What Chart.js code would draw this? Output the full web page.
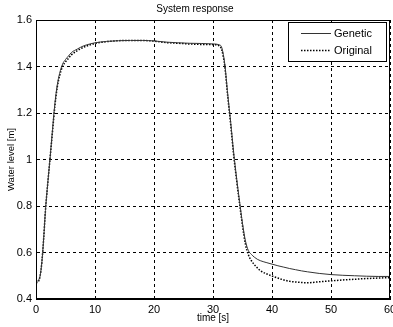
<!DOCTYPE html>
<html>
<head>
<meta charset="utf-8">
<script src="https://cdn.jsdelivr.net/npm/chart.js@4"></script>
<style>
  html, body { margin: 0; padding: 0; background: #fff; }
  #wrap { width: 393px; height: 327px; }
</style>
</head>
<body>
<div id="wrap"><canvas id="chart" width="393" height="327"></canvas></div>
<script>
// time samples [s]
const timePoints = [0, 0.4, 0.7, 1, 1.3, 1.6, 2, 2.4, 2.8, 3.2, 3.6, 4, 4.5, 5, 5.5, 6, 7, 8, 9, 10,
  12, 14, 16, 18, 20, 22, 24, 26, 28, 30, 31, 31.5, 32, 32.5, 33, 33.5, 34, 34.5, 35, 35.5,
  36, 36.5, 37, 37.5, 38, 39, 40, 41, 42, 43, 44, 45, 46, 48, 50, 52, 54, 56, 58, 60];

// water level [m] - genetic controller
const levelGenetic = [0.475, 0.48, 0.50, 0.56, 0.66, 0.78, 0.90, 1.01, 1.13, 1.24, 1.32, 1.37, 1.41, 1.43, 1.445, 1.46, 1.475, 1.488, 1.496, 1.502,
  1.508, 1.511, 1.512, 1.512, 1.51, 1.505, 1.502, 1.5, 1.499, 1.497, 1.494, 1.48, 1.41, 1.28, 1.16, 1.03, 0.92, 0.82, 0.725, 0.65,
  0.608, 0.592, 0.58, 0.571, 0.565, 0.557, 0.55, 0.543, 0.537, 0.531, 0.526, 0.521, 0.517, 0.51, 0.505, 0.502, 0.5, 0.498, 0.497, 0.497];

// water level [m] - original controller
const levelOriginal = [0.47, 0.475, 0.50, 0.56, 0.66, 0.78, 0.90, 1.01, 1.12, 1.23, 1.31, 1.36, 1.40, 1.42, 1.435, 1.45, 1.468, 1.482, 1.492, 1.499,
  1.507, 1.511, 1.512, 1.512, 1.509, 1.503, 1.5, 1.497, 1.495, 1.494, 1.49, 1.47, 1.40, 1.27, 1.15, 1.02, 0.91, 0.81, 0.715, 0.635,
  0.59, 0.565, 0.548, 0.534, 0.522, 0.509, 0.499, 0.49, 0.482, 0.476, 0.473, 0.471, 0.47, 0.474, 0.478, 0.482, 0.485, 0.488, 0.49, 0.492];

const xTicks = [0, 10, 20, 30, 40, 50, 60];
const yTicks = [0.4, 0.6, 0.8, 1, 1.2, 1.4, 1.6];

const FONT = '"Liberation Sans", Arial, sans-serif';

function toPoints(ys) {
  return timePoints.map((t, i) => ({ x: t, y: ys[i] }));
}

// solid frame round the plot area plus a boxed legend inside it
const framePlugin = {
  id: 'frame',
  afterDraw(chart) {
    const { ctx, chartArea: a } = chart;
    ctx.save();
    ctx.strokeStyle = '#000';
    ctx.lineWidth = 1;
    ctx.setLineDash([]);
    ctx.strokeRect(Math.round(a.left) + 0.5, Math.round(a.top) + 0.5,
      Math.round(a.right - a.left) - 1, Math.round(a.bottom - a.top) - 1);

    // legend box
    const bx = 288.5, by = 22.5, bw = 98, bh = 39;
    ctx.fillStyle = '#fff';
    ctx.fillRect(bx, by, bw, bh);
    ctx.strokeRect(bx, by, bw, bh);
    ctx.font = '11px ' + FONT;
    ctx.textBaseline = 'middle';
    chart.data.datasets.forEach((ds, i) => {
      const yy = 33.5 + i * 17;
      ctx.strokeStyle = ds.borderColor;
      ctx.lineWidth = ds.borderWidth;
      ctx.setLineDash(ds.borderDash || []);
      ctx.beginPath();
      ctx.moveTo(301, yy);
      ctx.lineTo(331, yy);
      ctx.stroke();
      ctx.fillStyle = '#000';
      ctx.fillText(ds.label, 334, yy);
    });
    ctx.restore();
  }
};

new Chart(document.getElementById('chart'), {
  type: 'line',
  data: {
    datasets: [
      {
        label: 'Genetic',
        data: toPoints(levelGenetic),
        borderColor: '#333',
        borderWidth: 1,
        pointRadius: 0,
        cubicInterpolationMode: 'monotone'
      },
      {
        label: 'Original',
        data: toPoints(levelOriginal),
        borderColor: '#000',
        borderWidth: 1.5,
        borderDash: [1.5, 1.5],
        pointRadius: 0,
        cubicInterpolationMode: 'monotone'
      }
    ]
  },
  options: {
    responsive: false,
    animation: false,
    layout: { padding: { right: 3, top: 0, left: 0, bottom: 0 } },
    plugins: {
      legend: { display: false },
      tooltip: { enabled: false },
      title: {
        display: true,
        text: 'System response',
        color: '#000',
        font: { family: FONT, size: 10, weight: 'normal' },
        padding: { top: 3, bottom: 5 }
      }
    },
    scales: {
      x: {
        type: 'linear',
        min: 0,
        max: 60,
        afterBuildTicks: s => { s.ticks = xTicks.map(v => ({ value: v })); },
        afterFit: s => { s.height = 28; s.paddingLeft = 0; s.paddingRight = 0; },
        ticks: { color: '#000', font: { family: FONT, size: 11 }, padding: 4, maxRotation: 0 },
        grid: { color: '#000', lineWidth: 1, drawTicks: false },
        border: { display: true, color: '#000', dash: [3, 3] },
        title: {
          display: true,
          text: 'time [s]',
          color: '#000',
          font: { family: FONT, size: 10 },
          padding: { top: 0, bottom: 3 }
        }
      },
      y: {
        min: 0.4,
        max: 1.6,
        afterBuildTicks: s => { s.ticks = yTicks.map(v => ({ value: v })); },
        afterFit: s => { s.width = 36; s.paddingTop = 0; s.paddingBottom = 0; },
        ticks: {
          color: '#000',
          font: { family: FONT, size: 11 },
          padding: 4,
          callback: v => String(+v.toFixed(1))
        },
        grid: { color: '#000', lineWidth: 1, drawTicks: false },
        border: { display: true, color: '#000', dash: [3, 3] },
        title: {
          display: true,
          text: 'Water level [m]',
          color: '#000',
          font: { family: FONT, size: 9.5 },
          padding: { top: 6, bottom: 0 }
        }
      }
    }
  },
  plugins: [framePlugin]
});
</script>
</body>
</html>
